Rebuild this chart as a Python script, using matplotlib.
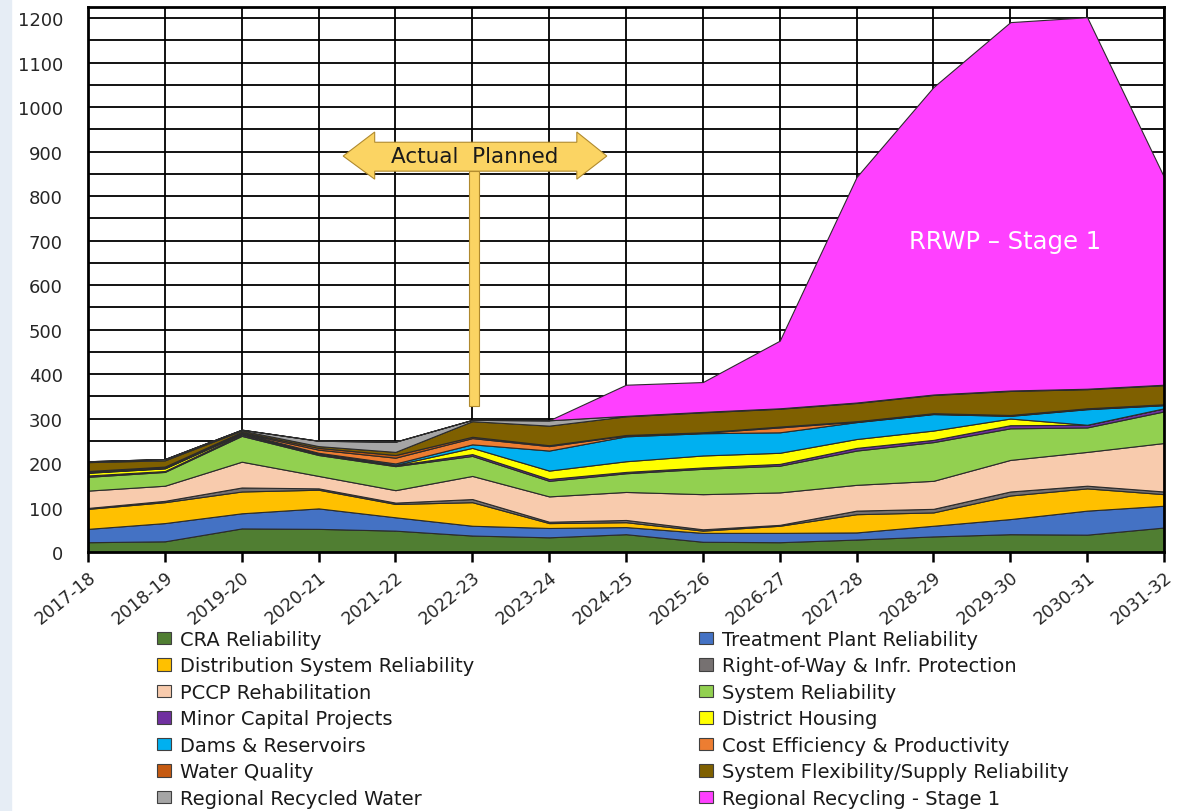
import matplotlib
matplotlib.use("Agg")
import matplotlib.pyplot as plt
from matplotlib.patches import Patch, Polygon, Rectangle

plt.rcParams["font.family"] = ["DejaVu Sans"]

years = ["2017-18", "2018-19", "2019-20", "2020-21", "2021-22", "2022-23", "2023-24",
         "2024-25", "2025-26", "2026-27", "2027-28", "2028-29", "2029-30", "2030-31", "2031-32"]

# series thickness per fiscal year (stacked bottom to top)
cra = [22, 24, 53, 52, 48, 37, 33, 40, 23, 22, 28, 35, 40, 39, 55]
treatment = [30, 41, 34, 46, 30, 22, 21, 16, 20, 21, 16, 24, 34, 54, 49]
distribution = [45, 47, 49, 42, 30, 53, 11, 11, 5, 16, 41, 30, 53, 50, 26]
right_of_way = [2, 3, 9, 3, 3, 7, 3, 5, 3, 2, 8, 8, 9, 6, 6]
pccp = [39, 34, 58, 28, 28, 52, 57, 63, 79, 73, 58, 63, 71, 76, 109]
system_rel = [31, 31, 58, 47, 54, 45, 35, 42, 57, 60, 77, 87, 71, 55, 71]
minor_capital = [3, 2, 3, 2, 2, 4, 4, 3, 3, 4, 6, 5, 7, 6, 7]
district_housing = [6, 6, 2, 1, 1, 14, 19, 24, 27, 25, 20, 21, 15, 0, 0]
dams = [1, 1, 1, 2, 3, 8, 45, 56, 50, 46, 38, 37, 6, 35, 7]
cost_eff = [1, 1, 1, 7, 13, 14, 10, 2, 1, 11, 1, 1, 1, 1, 1]
water_quality = [2, 2, 2, 4, 6, 3, 2, 1, 1, 2, 1, 1, 1, 1, 1]
flexibility = [20, 14, 3, 4, 7, 35, 44, 42, 45, 40, 41, 41, 54, 43, 43]
recycled_water = [2, 3, 2, 12, 23, 3, 12, 1, 1, 1, 1, 1, 1, 1, 1]
recycling_stage1 = [0, 0, 0, 0, 0, 0, 0, 70, 67, 152, 507, 691, 828, 835, 467]

labels = ["CRA Reliability", "Treatment Plant Reliability", "Distribution System Reliability",
          "Right-of-Way & Infr. Protection", "PCCP Rehabilitation", "System Reliability",
          "Minor Capital Projects", "District Housing", "Dams & Reservoirs",
          "Cost Efficiency & Productivity", "Water Quality", "System Flexibility/Supply Reliability",
          "Regional Recycled Water", "Regional Recycling - Stage 1"]
colors = ["#507e32", "#4472c4", "#ffc000", "#767171", "#f8cbad", "#92d050", "#7030a0",
          "#ffff00", "#00b0f0", "#ed7d31", "#c55a11", "#7f6000", "#a5a5a5", "#ff40ff"]
series = [cra, treatment, distribution, right_of_way, pccp, system_rel, minor_capital,
          district_housing, dams, cost_eff, water_quality, flexibility, recycled_water,
          recycling_stage1]

fig = plt.figure(figsize=(11.79, 8.12), dpi=100)
fig.patches.append(Rectangle((0, 0), 11 / 1179, 1, transform=fig.transFigure,
                             color="#e6edf5", zorder=0))
ax = fig.add_axes([88 / 1179, 1 - 553 / 812, (1164 - 88) / 1179, (553 - 8) / 812])

x = list(range(len(years)))
ax.stackplot(x, series, colors=colors, edgecolor="#2b2b2b", linewidth=0.8, zorder=3)

ax.set_xlim(0, len(years) - 1)
ax.set_ylim(0, 1225)
ax.set_yticks(range(0, 1201, 100))
ax.set_yticks(range(50, 1201, 100), minor=True)
ax.set_xticks(x)
ax.set_xticklabels(years, rotation=39, ha="right", rotation_mode="anchor", fontsize=12.5)
ax.tick_params(axis="y", which="both", length=0, labelsize=13, pad=18, labelcolor="#262626")
ax.tick_params(axis="x", length=7, width=1.8, direction="out", pad=4, labelcolor="#262626")
ax.grid(True, which="both", color="black", linewidth=1.3, zorder=1)
ax.set_axisbelow(True)
for s in ax.spines.values():
    s.set_linewidth(2)
    s.set_zorder(5)

# Actual / Planned marker
post_x0, post_x1 = 4.96, 5.09
ax.add_patch(Rectangle((post_x0, 328), post_x1 - post_x0, 856 - 328, facecolor="#fbd463",
                       edgecolor="#b08a2e", linewidth=0.8, zorder=6))
ax_l, ax_r, hl, hr = 3.32, 6.75, 3.73, 6.36
arrow = [(ax_l, 890), (hl, 944), (hl, 921), (hr, 921), (hr, 944), (ax_r, 890),
         (hr, 838), (hr, 856), (hl, 856), (hl, 838)]
ax.add_patch(Polygon(arrow, closed=True, facecolor="#fbd463", edgecolor="#b08a2e",
                     linewidth=0.8, zorder=7))
ax.text((ax_l + ax_r) / 2, 889, "Actual  Planned", ha="center", va="center",
        fontsize=15.5, color="#1a1a1a", zorder=8)

ax.text(11.93, 699, "RRWP \u2013 Stage 1", ha="center", va="center", fontsize=17.5,
        color="white", zorder=8)

handles = [Patch(facecolor=c, edgecolor="#404040", linewidth=0.8) for c in colors]
kw = dict(frameon=False, fontsize=14, handlelength=0.72, handleheight=0.62,
          handletextpad=0.45, labelspacing=0.385, borderaxespad=0, borderpad=0,
          labelcolor="#1a1a1a")
fig.legend(handles[0::2], labels[0::2], loc="upper left",
           bbox_to_anchor=(157 / 1179, 1 - 631 / 812), **kw)
fig.legend(handles[1::2], labels[1::2], loc="upper left",
           bbox_to_anchor=(699 / 1179, 1 - 631 / 812), **kw)

fig.savefig("out.png", dpi=100)
